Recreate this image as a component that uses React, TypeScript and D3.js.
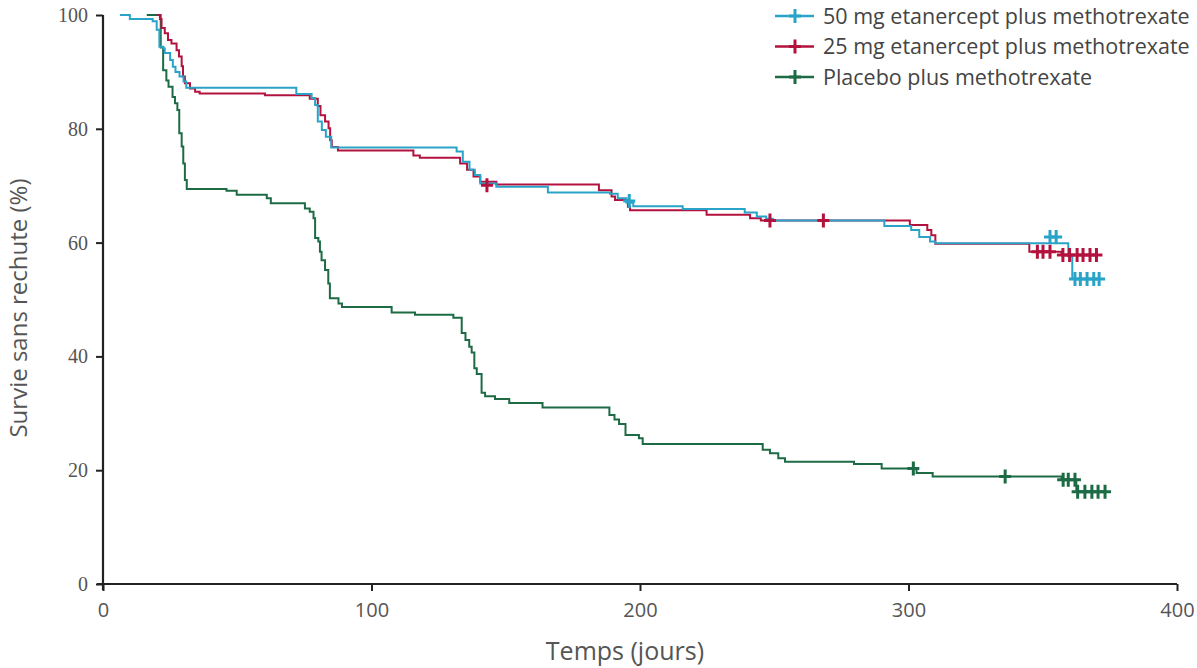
import React, { useRef, useEffect } from "react";
import * as d3 from "d3";

// step points [day, % free of relapse]
const fiftyMgSteps = [
  [6.3, 100], [10, 99.3], [18.5, 98.9], [20, 97.4], [21, 94.4], [22.5, 94.1], [23, 93.3],
  [25, 92.1], [26, 90.9], [27, 90], [28.5, 89.2], [30, 88.3], [31, 87.2], [72, 86.1],
  [77.7, 85.4], [79, 84.2], [80, 81.3], [81.5, 79.8], [83, 78.6], [85, 76.7], [131.7, 76.0],
  [134, 74.2], [136.5, 72.8], [138.5, 71.9], [140.5, 70.4], [146.5, 69.8], [165.7, 68.8],
  [188.8, 68.6], [191.7, 67.8], [195, 67.0], [197.5, 66.4], [215.9, 65.9], [239, 65.3],
  [243.5, 64.6], [247, 64.2], [249.5, 63.9], [291, 62.9], [301, 62.2], [304, 61.0],
  [308, 60.2], [310, 59.9], [359.5, 57.6], [361, 53.6], [371, 53.6],
];

const twentyFiveMgSteps = [
  [20, 100], [21.2, 99.3], [21.8, 97.7], [23, 96.8], [24.2, 95.6], [25.5, 95], [27.4, 93.8],
  [28.3, 92.7], [29.3, 91], [29.8, 89.2], [30.5, 88], [32.4, 87.1], [34.3, 86.5], [36, 86.2],
  [60.3, 85.9], [77, 85.3], [80, 84], [81, 82.4], [82.7, 81.3], [84, 80.1], [84.6, 78],
  [85.2, 76.8], [87.5, 76.2], [115.6, 75.3], [118, 74.9], [133, 73.9], [135.6, 72.8],
  [138, 71.6], [140.5, 70.7], [146.5, 70.2], [184.7, 69.2], [189.4, 68.1], [190.7, 67.5],
  [195.5, 66.3], [196.3, 65.7], [224.8, 64.9], [241, 64.3], [245, 63.9], [300.5, 63.1],
  [307, 62.2], [308.5, 61.3], [310, 59.8], [345, 58.4], [357, 57.8], [370, 57.8],
];

const placeboSteps = [
  [16.3, 100], [21.5, 94.3], [22.4, 90.3], [23.6, 88.5], [24.4, 87.4], [25.9, 85.6],
  [26.8, 84.5], [27.7, 83.3], [28.4, 79.2], [29.3, 76.9], [29.9, 73.9], [30.5, 71],
  [31.2, 69.4], [46, 69.1], [49.8, 68.4], [61, 67.8], [62.5, 66.9], [75.2, 66.0], [77, 65.4],
  [78.4, 64.3], [79, 60.8], [80.2, 60.2], [80.8, 58.4], [81.4, 56.9], [82.7, 55.2],
  [83.9, 52.8], [84.5, 50.2], [87.7, 49.3], [89, 48.7], [107.5, 47.7], [116.2, 47.3],
  [130.5, 46.8], [133.6, 44.1], [135, 42.9], [136.4, 41.7], [137.3, 40.7], [138.3, 37.9],
  [139.2, 36.9], [141, 33.6], [142.3, 33.0], [146, 32.5], [151.3, 31.8], [163.7, 31.0],
  [188.6, 29.7], [190.5, 28.9], [192.2, 28.1], [194.6, 26.2], [199.6, 25.6], [201, 24.6],
  [245.7, 23.6], [248.4, 23.0], [251.5, 22.1], [254, 21.5], [279.7, 21.1], [290, 20.3],
  [303, 19.5], [309, 18.9], [357, 18.3], [362.5, 16.2], [374, 16.2],
];

// censored observations
const fiftyMgCensored = [
  [196, 67.3], [352.7, 61], [355, 61], [362, 53.6], [364, 53.6], [366.5, 53.6], [369, 53.6], [371, 53.6],
];
const twentyFiveMgCensored = [
  [143, 70.1], [248.4, 63.9], [268.3, 63.9], [348, 58.4], [350.1, 58.4], [352.7, 58.4],
  [357.5, 57.8], [360, 57.8], [362.8, 57.8], [365, 57.8], [367.6, 57.8], [370, 57.8],
];
const placeboCensored = [
  [301.8, 20.3], [336, 18.9], [357.6, 18.3], [359.5, 18.3], [362, 18.3],
  [363, 16.2], [365.7, 16.2], [368.3, 16.2], [370.6, 16.2], [373.2, 16.2],
];

const xTicks = [0, 100, 200, 300, 400];
const yTicks = [0, 20, 40, 60, 80, 100];

const groups = [
  { name: "Placebo plus methotrexate", color: "#1d6b45", steps: placeboSteps, censored: placeboCensored },
  { name: "25 mg etanercept plus methotrexate", color: "#b3123e", steps: twentyFiveMgSteps, censored: twentyFiveMgCensored },
  { name: "50 mg etanercept plus methotrexate", color: "#2aa3c8", steps: fiftyMgSteps, censored: fiftyMgCensored },
];
const legendOrder = [2, 1, 0];

const App = () => {
  const ref = useRef();

  useEffect(() => {
    const W = 1197;
    const H = 668;
    const margin = { top: 15, right: 20, bottom: 84, left: 103 };
    const width = W - margin.left - margin.right;
    const height = H - margin.top - margin.bottom;

    d3.select(ref.current).select("svg").remove();

    const root = d3
      .select(ref.current)
      .append("svg")
      .attr("width", W)
      .attr("height", H)
      .style("position", "absolute")
      .style("left", 0)
      .style("top", 0)
      .style("background", "#fff");

    const svg = root.append("g").attr("transform", `translate(${margin.left},${margin.top})`);

    const x = d3.scaleLinear().domain([0, 400]).range([0, width]);
    const y = d3.scaleLinear().domain([0, 100]).range([height, 0]);

    // axes
    const axisColor = "#222";
    const labelColor = "#555";

    const xAxis = svg
      .append("g")
      .attr("transform", `translate(0,${height})`)
      .call(d3.axisBottom(x).tickValues(xTicks).tickSize(7).tickPadding(12).tickSizeOuter(0));
    xAxis.select(".domain").attr("stroke", axisColor).attr("stroke-width", 2.2)
      .attr("d", `M-6,0H${width}`);
    xAxis.selectAll(".tick line").attr("stroke", axisColor).attr("stroke-width", 2);
    xAxis.selectAll(".tick text")
      .attr("fill", labelColor)
      .style("font-family", "'Liberation Sans Narrow', 'Open Sans', sans-serif")
      .style("font-size", "20px");

    const yAxis = svg
      .append("g")
      .call(d3.axisLeft(y).tickValues(yTicks).tickSize(7).tickPadding(8).tickSizeOuter(0));
    yAxis.select(".domain").attr("stroke", axisColor).attr("stroke-width", 2.2)
      .attr("d", `M0,0V${height + 6}`);
    yAxis.selectAll(".tick line").attr("stroke", axisColor).attr("stroke-width", 2);
    yAxis.selectAll(".tick text")
      .attr("fill", labelColor)
      .style("font-family", "'Liberation Serif', serif")
      .style("font-size", "20px");

    // axis titles
    svg
      .append("text")
      .attr("x", x(194.4))
      .attr("y", height + 76)
      .attr("text-anchor", "middle")
      .attr("fill", labelColor)
      .style("font-family", "'Open Sans', sans-serif")
      .style("font-size", "25px")
      .text("Temps (jours)");

    svg
      .append("text")
      .attr("transform", `translate(${27 - margin.left},${308 - margin.top}) rotate(-90)`)
      .attr("text-anchor", "middle")
      .attr("fill", labelColor)
      .style("font-family", "'Open Sans', sans-serif")
      .style("font-size", "24px")
      .text("Survie sans rechute (%)");

    // curves
    const line = d3
      .line()
      .x((d) => x(d[0]))
      .y((d) => y(d[1]))
      .curve(d3.curveStepAfter);

    groups.forEach((g) => {
      svg
        .append("path")
        .datum(g.steps)
        .attr("fill", "none")
        .attr("stroke", g.color)
        .attr("stroke-width", 2)
        .attr("d", line);
    });

    const plus = (sel, color) => {
      sel
        .append("path")
        .attr("d", "M-6,0H6M0,-7V7")
        .attr("stroke", color)
        .attr("stroke-width", 3)
        .attr("fill", "none");
    };

    groups.forEach((g) => {
      svg
        .selectAll(null)
        .data(g.censored)
        .enter()
        .append("g")
        .attr("transform", (d) => `translate(${x(d[0])},${y(d[1])})`)
        .each(function () {
          plus(d3.select(this), g.color);
        });
    });

    // legend
    const legend = root.append("g").attr("transform", "translate(775,16)");
    legendOrder.forEach((gi, i) => {
      const g = groups[gi];
      const row = legend.append("g").attr("transform", `translate(0,${i * 30.5})`);
      row
        .append("line")
        .attr("x1", 0)
        .attr("x2", 39)
        .attr("stroke", g.color)
        .attr("stroke-width", 2.5);
      row.append("g").attr("transform", "translate(20,0)").call((s) => plus(s, g.color));
      row
        .append("text")
        .attr("x", 48)
        .attr("dy", "0.35em")
        .attr("fill", "#444")
        .style("font-family", "'Open Sans', sans-serif")
        .style("font-size", "21.5px")
        .text(g.name);
    });
  }, []);

  return <div ref={ref}></div>;
};

export default App;
